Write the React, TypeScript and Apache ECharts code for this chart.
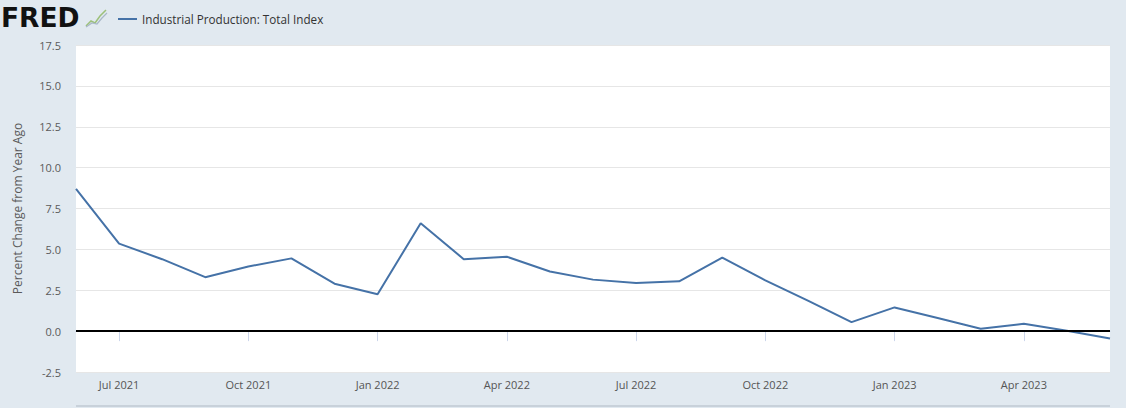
import React, { useEffect, useRef } from "react";
import * as echarts from "echarts";

const months = [
  "Jun 2021", "Jul 2021", "Aug 2021", "Sep 2021", "Oct 2021", "Nov 2021", "Dec 2021",
  "Jan 2022", "Feb 2022", "Mar 2022", "Apr 2022", "May 2022", "Jun 2022", "Jul 2022",
  "Aug 2022", "Sep 2022", "Oct 2022", "Nov 2022", "Dec 2022", "Jan 2023", "Feb 2023",
  "Mar 2023", "Apr 2023", "May 2023", "Jun 2023",
];

const values = [
  8.7, 5.35, 4.4, 3.3, 3.95, 4.45, 2.9,
  2.25, 6.6, 4.4, 4.55, 3.65, 3.15, 2.95,
  3.05, 4.5, 3.1, 1.85, 0.55, 1.45, 0.8,
  0.15, 0.45, 0.02, -0.45,
];

const seriesName = "Industrial Production: Total Index";
const yAxisTitle = "Percent Change from Year Ago";
const logoText = "FRED";

export default function App() {
  const ref = useRef<HTMLDivElement>(null);
  useEffect(() => {
    document.body.style.margin = "0";
    const chart = echarts.init(ref.current!, null, { renderer: "svg" });
    const labelEvery = (i: number) => i % 3 === 1;
    chart.setOption({
      animation: false,
      backgroundColor: "#e1e9f0",
      grid: {
        left: 76, right: 16, top: 45, bottom: 36,
        show: true, backgroundColor: "#ffffff", borderWidth: 0,
      },
      legend: {
        left: 113, top: 8,
        icon: "rect", itemWidth: 19, itemHeight: 2,
        textStyle: { fontSize: 11.7, color: "#333333", fontFamily: "Open Sans" },
        data: [seriesName],
      },
      xAxis: {
        type: "category",
        data: months,
        boundaryGap: false,
        axisLine: { show: true, lineStyle: { color: "#ccd6eb", width: 1 } },
        axisTick: { show: true, interval: labelEvery, length: 10, lineStyle: { color: "#ccd6eb" } },
        axisLabel: {
          interval: labelEvery, color: "#555555", fontSize: 11,
          fontFamily: "Open Sans", margin: 7,
        },
        splitLine: { show: false },
      },
      yAxis: {
        type: "value",
        min: -2.5, max: 17.5, interval: 2.5,
        name: yAxisTitle,
        nameLocation: "middle",
        nameGap: 53,
        nameTextStyle: { color: "#5a5a5a", fontSize: 12, fontFamily: "Open Sans" },
        axisLabel: {
          formatter: (v: number) => v.toFixed(1),
          color: "#5a5a5a", fontSize: 11, fontFamily: "Open Sans", margin: 15,
        },
        axisLine: { show: false },
        axisTick: { show: false },
        splitLine: { lineStyle: { color: "#e6e6e6", width: 1 } },
      },
      series: [
        {
          name: seriesName,
          type: "line",
          data: values,
          symbol: "none",
          color: "#4572a7",
          lineStyle: { color: "#4572a7", width: 2 },
          markLine: {
            silent: true,
            symbol: "none",
            label: { show: false },
            lineStyle: { color: "#000000", width: 2, type: "solid" },
            data: [{ yAxis: 0 }],
          },
        },
      ],
      graphic: [
        {
          type: "text", left: 1, top: 4,
          style: {
            text: logoText, fill: "#111111",
            font: "900 26.5px 'DejaVu Sans'",
          },
        },
        {
          type: "polyline",
          shape: { points: [[86, 26], [91, 21], [95, 23], [100, 16], [106, 10]] },
          style: { stroke: "#9cc07a", lineWidth: 1.5, fill: "none" },
        },
        {
          type: "polyline",
          shape: { points: [[86, 27], [92, 23], [97, 24], [102, 18], [107, 13]] },
          style: { stroke: "#a9b8c8", lineWidth: 1.2, fill: "none" },
        },
        {
          type: "line",
          shape: { x1: 76, y1: 406, x2: 1110, y2: 406 },
          style: { stroke: "#c8d1da", lineWidth: 2 },
        },
      ],
    });
    return () => chart.dispose();
  }, []);
  return (
    <div
      ref={ref}
      style={{ position: "fixed", left: 0, top: 0, width: 1126, height: 408 }}
    />
  );
}
